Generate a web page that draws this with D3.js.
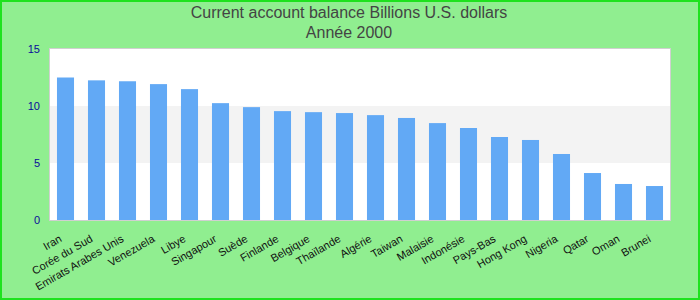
<!DOCTYPE html>
<html lang="fr">
<head>
    <meta charset="UTF-8">
    <script src="https://d3js.org/d3.v7.min.js"></script>
    <title>Current account balance</title>
    <style>
        body { margin: 0; }
        text { font-family: "Liberation Sans", Arial, sans-serif; }
    </style>
</head>
<body>
<svg class="chart"></svg>

<script>
    const countries = ["Iran", "Corée du Sud", "Emirats Arabes Unis", "Venezuela", "Libye", "Singapour",
        "Suède", "Finlande", "Belgique", "Thaïlande", "Algérie", "Taiwan", "Malaisie", "Indonésie",
        "Pays-Bas", "Hong Kong", "Nigeria", "Qatar", "Oman", "Brunei"];
    const balance = [12.5, 12.25, 12.17, 11.92, 11.48, 10.25, 9.9, 9.55, 9.46, 9.38,
        9.2, 8.95, 8.5, 8.07, 7.28, 7.02, 5.79, 4.12, 3.16, 2.98];
    const yTicks = [0, 5, 10, 15];
    const titleLines = ["Current account balance Billions U.S. dollars", "Année 2000"];

    let width = 700;
    let height = 300;
    let plot = {left: 50, right: 670, top: 49, bottom: 220};

    let svg = d3.select('.chart')
        .attr('width', width)
        .attr('height', height);

    // background + border
    svg.append('rect')
        .attr('x', 1).attr('y', 1)
        .attr('width', width - 2).attr('height', height - 2)
        .style('fill', '#90ee90')
        .style('stroke', '#1ee21e')
        .style('stroke-width', 2);

    var x = d3.scaleBand()
        .domain(countries)
        .range([plot.left, plot.right])
        .paddingInner(0.45)
        .paddingOuter(0.225);

    var y = d3.scaleLinear()
        .domain([0, 15])
        .range([plot.bottom, plot.top]);

    // plot area with alternating bands
    svg.append('rect')
        .attr('x', plot.left).attr('y', plot.top)
        .attr('width', plot.right - plot.left).attr('height', plot.bottom - plot.top)
        .style('fill', 'white');

    let bands = d3.pairs(yTicks).filter(function (d, i) { return i % 2 === 1; });
    svg.selectAll('.band')
        .data(bands)
        .enter()
        .append('rect')
        .attr('class', 'band')
        .attr('x', plot.left)
        .attr('width', plot.right - plot.left)
        .attr('y', function (d) { return y(d[1]); })
        .attr('height', function (d) { return y(d[0]) - y(d[1]); })
        .style('fill', '#f3f3f3');

    svg.append('rect')
        .attr('x', plot.left - 0.5).attr('y', plot.top - 0.5)
        .attr('width', plot.right - plot.left + 1).attr('height', plot.bottom - plot.top + 1)
        .style('fill', 'none')
        .style('stroke', '#d0d0d0')
        .style('stroke-width', 1);

    // bars
    svg.selectAll('.bar')
        .data(countries)
        .enter()
        .append('rect')
        .attr('class', 'bar')
        .attr('x', function (d) { return x(d); })
        .attr('width', x.bandwidth())
        .attr('y', function (d, i) { return y(balance[i]); })
        .attr('height', function (d, i) { return y(0) - y(balance[i]); })
        .style('fill', '#62a9f5');

    // y axis
    let yAxis = svg.append('g')
        .attr('transform', 'translate(' + plot.left + ',0)')
        .call(d3.axisLeft(y).tickValues(yTicks).tickSize(0).tickPadding(10));
    yAxis.select('.domain').remove();
    yAxis.selectAll('text')
        .style('font-size', '11px')
        .style('font-family', '"Liberation Sans", Arial, sans-serif')
        .style('fill', '#0a0a9a');

    // x labels
    let xAxis = svg.append('g')
        .attr('transform', 'translate(0,' + plot.bottom + ')')
        .call(d3.axisBottom(x).tickSize(0).tickPadding(0));
    xAxis.select('.domain').remove();
    xAxis.selectAll('text')
        .attr('text-anchor', 'end')
        .attr('dy', 0)
        .attr('y', 0)
        .attr('transform', 'translate(-3,21) rotate(-30)')
        .style('font-size', '11px')
        .style('font-family', '"Liberation Sans", Arial, sans-serif')
        .style('fill', '#111');

    // title
    svg.selectAll('.title')
        .data(titleLines)
        .enter()
        .append('text')
        .attr('class', 'title')
        .attr('x', 349)
        .attr('y', function (d, i) { return 18 + i * 20; })
        .attr('text-anchor', 'middle')
        .style('font-size', '16px')
        .style('fill', '#444')
        .text(function (d) { return d; });
</script>
</body>
</html>
